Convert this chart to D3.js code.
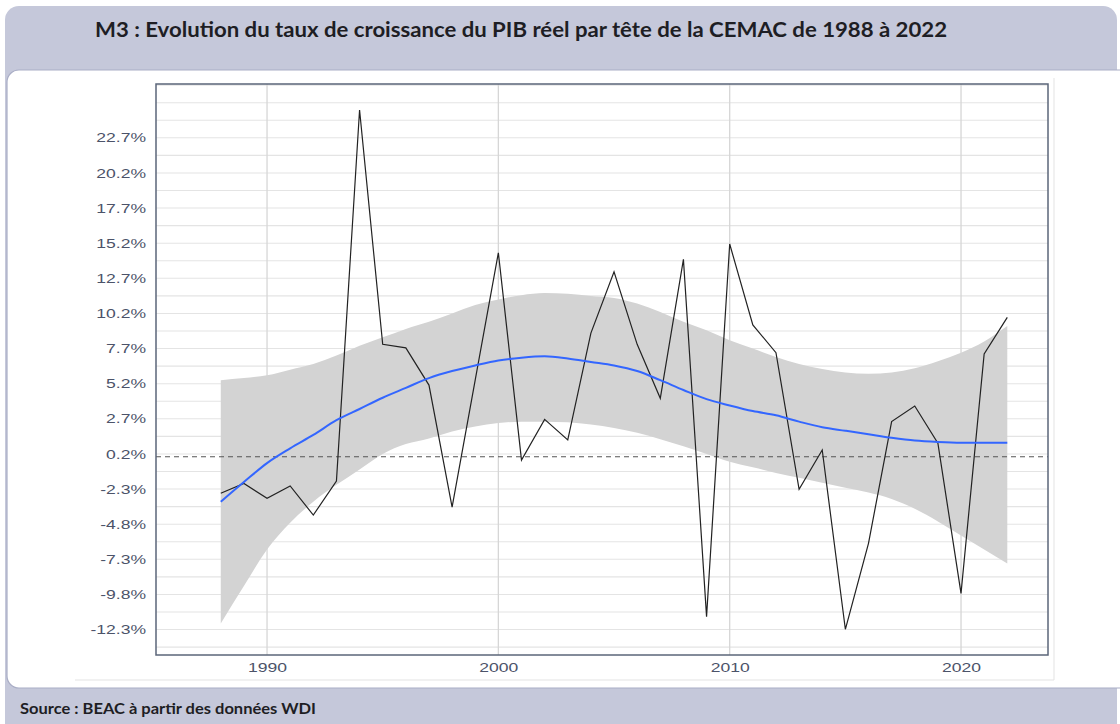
<!DOCTYPE html>
<html>
<head>
<meta charset="utf-8">
<script src="https://cdn.jsdelivr.net/npm/d3@7"></script>
<style>
body { margin: 0; background: #fff; }
svg { display: block; }
</style>
</head>
<body>
<svg id="chart" width="1120" height="724"></svg>
<script>
// données
const years = [1988, 1989, 1990, 1991, 1992, 1993, 1994, 1995, 1996, 1997, 1998, 1999,
    2000, 2001, 2002, 2003, 2004, 2005, 2006, 2007, 2008, 2009, 2010, 2011,
    2012, 2013, 2014, 2015, 2016, 2017, 2018, 2019, 2020, 2021, 2022];
const growth = [-2.6, -1.9, -2.96, -2.08, -4.15, -1.73, 24.68, 8.0, 7.75, 5.1, -3.58, 5.47,
    14.52, -0.23, 2.66, 1.2, 8.8, 13.17, 8.0, 4.16, 14.05, -11.38, 15.14, 9.38,
    7.41, -2.32, 0.48, -12.28, -6.16, 2.5, 3.61, 0.96, -9.72, 7.31, 9.92];
const smooth = [-3.2, -1.8, -0.45, 0.6, 1.55, 2.6, 3.4, 4.2, 4.9, 5.6, 6.1, 6.5,
    6.85, 7.05, 7.15, 7.0, 6.75, 6.5, 6.1, 5.45, 4.75, 4.1, 3.65, 3.25,
    2.95, 2.5, 2.1, 1.85, 1.6, 1.35, 1.15, 1.05, 1.0, 1.0, 1.0];
const bandHigh = [5.45, 5.6, 5.8, 6.2, 6.6, 7.2, 7.9, 8.5, 9.1, 9.6, 10.2, 10.8,
    11.2, 11.5, 11.65, 11.6, 11.45, 11.3, 10.9, 10.3, 9.6, 9.0, 8.3, 7.7,
    7.1, 6.6, 6.25, 6.0, 5.9, 6.0, 6.3, 6.8, 7.4, 8.2, 9.3];
const bandLow = [-11.86, -9.2, -6.6, -4.7, -3.2, -2.0, -0.9, 0.2, 0.9, 1.3, 1.8, 2.15,
    2.4, 2.5, 2.5, 2.45, 2.3, 2.05, 1.7, 1.25, 0.75, 0.2, -0.35, -0.75,
    -1.15, -1.5, -1.85, -2.2, -2.55, -3.0, -3.7, -4.6, -5.6, -6.6, -7.6];
const yTicks = [-12.3, -9.8, -7.3, -4.8, -2.3, 0.2, 2.7, 5.2, 7.7, 10.2, 12.7, 15.2, 17.7, 20.2, 22.7];
const xTicks = [1990, 2000, 2010, 2020];
const titleText = "M3 : Evolution du taux de croissance du PIB réel par tête de la CEMAC de 1988 à 2022";
const sourceText = "Source : BEAC à partir des données WDI";

const svg = d3.select("#chart");

// cadre
svg.append("rect")
    .attr("x", 5).attr("y", 6).attr("width", 1112).attr("height", 740)
    .attr("rx", 14).attr("fill", "#c5c8da");
svg.append("rect")
    .attr("x", 7).attr("y", 70).attr("width", 1125).attr("height", 618)
    .attr("rx", 12).attr("fill", "#fff").attr("stroke", "#a9adc5").attr("stroke-width", 1.2);

svg.append("text")
    .attr("x", 95).attr("y", 37)
    .attr("textLength", 852).attr("lengthAdjust", "spacingAndGlyphs")
    .style("font-family", "Lato, 'Open Sans', sans-serif")
    .style("font-weight", "bold").style("font-size", "21px")
    .style("fill", "#1e1e24")
    .text(titleText);

svg.append("text")
    .attr("x", 20).attr("y", 714)
    .attr("textLength", 296).attr("lengthAdjust", "spacingAndGlyphs")
    .style("font-family", "Lato, 'Open Sans', sans-serif")
    .style("font-weight", "bold").style("font-size", "15px")
    .style("fill", "#1e1e24")
    .text(sourceText);

// bord de l'image intégrée
svg.append("line").attr("x1", 75).attr("x2", 1054).attr("y1", 680).attr("y2", 680)
    .attr("stroke", "#e3e3e3");
svg.append("line").attr("x1", 1054).attr("x2", 1054).attr("y1", 78).attr("y2", 680)
    .attr("stroke", "#e3e3e3");

// zone du graphique
const pLeft = 156, pRight = 1048, pTop = 84, pBottom = 655;

const x = d3.scaleLinear().domain([1985.2, 2023.76]).range([pLeft, pRight]);
const y = d3.scaleLinear().domain([-14.11, 26.53]).range([pBottom, pTop]);

const rows = years.map((yr, i) => ({
    year: yr, v: growth[i], s: smooth[i], lo: bandLow[i], hi: bandHigh[i]
}));

// grille
const step = yTicks[1] - yTicks[0];
let gridVals = [];
for (let v = yTicks[0] - step / 2; v <= y.domain()[1]; v += step / 2) gridVals.push(v);

svg.append("g").selectAll("line")
    .data(gridVals)
    .enter().append("line")
    .attr("x1", pLeft).attr("x2", pRight)
    .attr("y1", d => y(d)).attr("y2", d => y(d))
    .attr("stroke", "#e4e4e4").attr("stroke-width", 1.1);

svg.append("g").selectAll("line")
    .data(xTicks)
    .enter().append("line")
    .attr("x1", d => x(d)).attr("x2", d => x(d))
    .attr("y1", pTop).attr("y2", pBottom)
    .attr("stroke", "#d6d6d6").attr("stroke-width", 1.3);

// intervalle de confiance
const band = d3.area()
    .x(d => x(d.year))
    .y0(d => y(d.lo))
    .y1(d => y(d.hi))
    .curve(d3.curveMonotoneX);

svg.append("path")
    .datum(rows)
    .attr("fill", "#d3d3d3")
    .attr("d", band);

svg.append("line")
    .attr("x1", pLeft).attr("x2", pRight)
    .attr("y1", y(0)).attr("y2", y(0))
    .attr("stroke", "#555").attr("stroke-width", 1.2)
    .attr("stroke-dasharray", "5,4");

const line = d3.line()
    .x(d => x(d.year))
    .y(d => y(d.v));

svg.append("path")
    .datum(rows)
    .attr("fill", "none")
    .attr("stroke", "#222")
    .attr("stroke-width", 1.2)
    .attr("d", line);

const smoothLine = d3.line()
    .x(d => x(d.year))
    .y(d => y(d.s))
    .curve(d3.curveMonotoneX);

svg.append("path")
    .datum(rows)
    .attr("fill", "none")
    .attr("stroke", "#3366ff")
    .attr("stroke-width", 2)
    .attr("d", smoothLine);

svg.append("rect")
    .attr("x", pLeft).attr("y", pTop)
    .attr("width", pRight - pLeft).attr("height", pBottom - pTop)
    .attr("fill", "none")
    .attr("stroke", "#5b6679").attr("stroke-width", 1.5);

// axes
const stretch = 1.35;

const yAxis = svg.append("g")
    .attr("transform", `translate(${pLeft},0)`)
    .call(d3.axisLeft(y).tickValues(yTicks).tickSize(0).tickPadding(10)
        .tickFormat(d => d.toFixed(1) + "%"));
yAxis.select(".domain").remove();
yAxis.selectAll("text")
    .attr("x", -10 / stretch)
    .attr("transform", `scale(${stretch},1)`)
    .style("font-family", "'Liberation Sans', Arial, sans-serif")
    .style("font-size", "13px")
    .style("fill", "#4c5369");

const xAxis = svg.append("g")
    .attr("transform", `translate(0,${pBottom})`)
    .call(d3.axisBottom(x).tickValues(xTicks).tickSize(0).tickPadding(8)
        .tickFormat(d3.format("d")));
xAxis.select(".domain").remove();
xAxis.selectAll("text")
    .attr("transform", `scale(${stretch},1)`)
    .style("font-family", "'Liberation Sans', Arial, sans-serif")
    .style("font-size", "13px")
    .style("fill", "#4c5369");
</script>
</body>
</html>
